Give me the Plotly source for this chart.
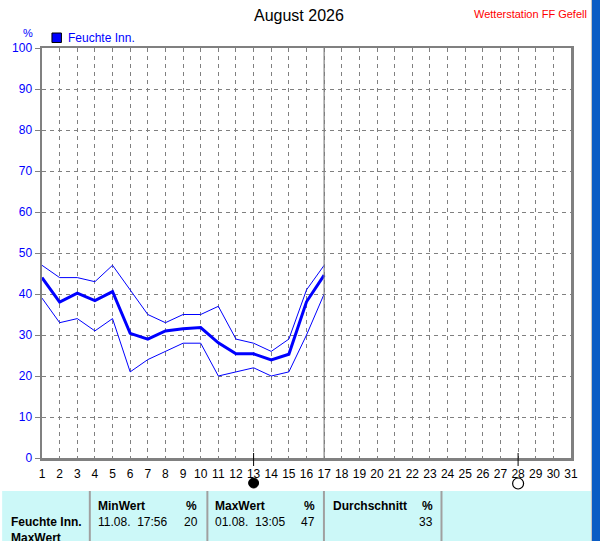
import plotly.graph_objects as go

# ---- data ----
days = list(range(1, 18))
hum_max = [47, 44, 44, 43, 47, 41, 35, 33, 35, 35, 37, 29, 28, 26, 29, 41, 47]
hum_mean = [44, 38, 40.2, 38.4, 40.6, 30.4, 29, 31, 31.5, 31.8, 28.1, 25.4, 25.4, 23.9, 25.3, 38.1, 44.6]
hum_min = [39, 33, 34, 31, 34, 21, 24, 26, 28, 28, 20, 21, 22, 20, 21, 30, 40]
x_ticks = list(range(1, 32))
y_ticks = list(range(0, 101, 10))
new_moon_days = [13]
full_moon_days = [28]
month_split_day = 17

title_text = "August 2026"
station_text = "Wetterstation FF Gefell"
series_name = "Feuchte Inn."
unit = "%"
stats_headers = ["MinWert", "MaxWert", "Durchschnitt"]
min_when, min_val = "11.08.  17:56", "20"
max_when, max_val = "01.08.  13:05", "47"
avg_val = "33"

# ---- geometry helpers (pixel -> paper) ----
W, H = 600, 541
L, R, T, B = 40, 571, 48, 458
DAY_PX = (R - L) / (x_ticks[-1] - x_ticks[0])


def px(xp):
    return (xp - L) / (R - L)


def py(yp):
    return (B - yp) / (B - T)


FONT = "Liberation Sans, Arial, sans-serif"
BLUE = "#0000ff"
GRAY = "#808080"

fig = go.Figure()

fig.add_trace(go.Scatter(x=days, y=hum_max, mode="lines",
                         line=dict(color=BLUE, width=1), hoverinfo="skip", showlegend=False))
fig.add_trace(go.Scatter(x=days, y=hum_min, mode="lines",
                         line=dict(color=BLUE, width=1), hoverinfo="skip", showlegend=False))
fig.add_trace(go.Scatter(x=days, y=hum_mean, mode="lines",
                         line=dict(color=BLUE, width=3), hoverinfo="skip", showlegend=False))

shapes = []
# bottom table background
shapes.append(dict(type="rect", xref="paper", yref="paper",
                   x0=px(0), x1=px(591), y0=py(491), y1=py(545),
                   fillcolor="#ccf8f8", line=dict(width=0), layer="below"))
for xd in [88, 206, 323, 441]:
    shapes.append(dict(type="line", xref="paper", yref="paper",
                       x0=px(xd), x1=px(xd), y0=py(491), y1=py(545),
                       line=dict(color="#a0a0a0", width=2)))
# right blue strip
shapes.append(dict(type="rect", xref="paper", yref="paper",
                   x0=px(592), x1=px(602), y0=py(-2), y1=py(545),
                   fillcolor="#0a5cc4", line=dict(width=0)))
shapes.append(dict(type="line", xref="paper", yref="paper",
                   x0=px(591.5), x1=px(591.5), y0=py(-2), y1=py(545),
                   line=dict(color="#c0c0c0", width=1)))
# month split line
shapes.append(dict(type="line", xref="x", yref="paper",
                   x0=month_split_day, x1=month_split_day, y0=0, y1=1,
                   line=dict(color=GRAY, width=1.2)))
# moon tick marks and symbols
rad = 5.0 / DAY_PX
for d in new_moon_days + full_moon_days:
    shapes.append(dict(type="line", xref="x", yref="paper",
                       x0=d, x1=d, y0=py(453), y1=py(466),
                       line=dict(color="black", width=1)))
for d in new_moon_days:
    shapes.append(dict(type="circle", xref="x", yref="paper",
                       x0=d - rad, x1=d + rad, y0=py(488), y1=py(478),
                       fillcolor="black", line=dict(color="black", width=1)))
for d in full_moon_days:
    shapes.append(dict(type="circle", xref="x", yref="paper",
                       x0=d - rad * 1.1, x1=d + rad * 1.1, y0=py(489), y1=py(478),
                       fillcolor="white", line=dict(color="black", width=1.2)))
# legend swatch
shapes.append(dict(type="rect", xref="paper", yref="paper",
                   x0=px(50), x1=px(59.5), y0=py(42.5), y1=py(33),
                   fillcolor=BLUE, line=dict(color="black", width=1)))

ann = []


def txt(x, y, s, anchor="left", size=12, color="black", bold=False):
    ann.append(dict(xref="paper", yref="paper", x=px(x), y=py(y),
                    text=("<b>%s</b>" % s) if bold else s, showarrow=False,
                    xanchor=anchor, yanchor="middle",
                    font=dict(family=FONT, size=size, color=color)))


txt(298, 16, title_text, anchor="center", size=16)
txt(589, 14, station_text, anchor="right", size=11, color="#ff0000")
txt(26, 33, unit, anchor="center", size=11, color=BLUE)
txt(64, 38, series_name, anchor="left", size=12, color=BLUE)

# table
txt(94, 506, stats_headers[0], bold=True)
txt(198, 506, unit, anchor="right", bold=True)
txt(212, 506, stats_headers[1], bold=True)
txt(316, 506, unit, anchor="right", bold=True)
txt(330, 506, stats_headers[2], bold=True)
txt(434, 506, unit, anchor="right", bold=True)
txt(7, 522, series_name, bold=True)
txt(94, 522, min_when)
txt(199, 522, min_val, anchor="right")
txt(212, 522, max_when)
txt(316, 522, max_val, anchor="right")
txt(434, 522, avg_val, anchor="right")
txt(7, 538, stats_headers[1], bold=True)

fig.update_layout(
    width=W, height=H,
    margin=dict(l=L, r=W - R, t=T, b=H - B, pad=0),
    paper_bgcolor="white", plot_bgcolor="white",
    shapes=shapes, annotations=ann, showlegend=False,
    font=dict(family=FONT, size=12, color="black"),
)
fig.update_xaxes(range=[1, 31], tickvals=x_ticks, ticktext=[str(v) for v in x_ticks],
                 showgrid=True, gridcolor=GRAY, griddash="4px,4px", gridwidth=1,
                 showline=True, linecolor=GRAY, linewidth=2.5, mirror=True,
                 ticks="", ticklabelstandoff=3, zeroline=False,
                 tickfont=dict(family=FONT, size=12, color="black"),
                 fixedrange=True)
fig.update_yaxes(range=[0, 100], tickvals=y_ticks, ticktext=[str(v) for v in y_ticks],
                 showgrid=True, gridcolor=GRAY, griddash="4px,4px", gridwidth=1,
                 showline=True, linecolor=GRAY, linewidth=2.5, mirror=True,
                 ticks="outside", ticklen=5, tickcolor=GRAY, zeroline=False,
                 tickfont=dict(family=FONT, size=12, color=BLUE), fixedrange=True)

fig.write_html("out.html", config=dict(displayModeBar=False, staticPlot=True),
               post_script="document.body.style.margin='0';document.body.style.overflow='hidden';")
